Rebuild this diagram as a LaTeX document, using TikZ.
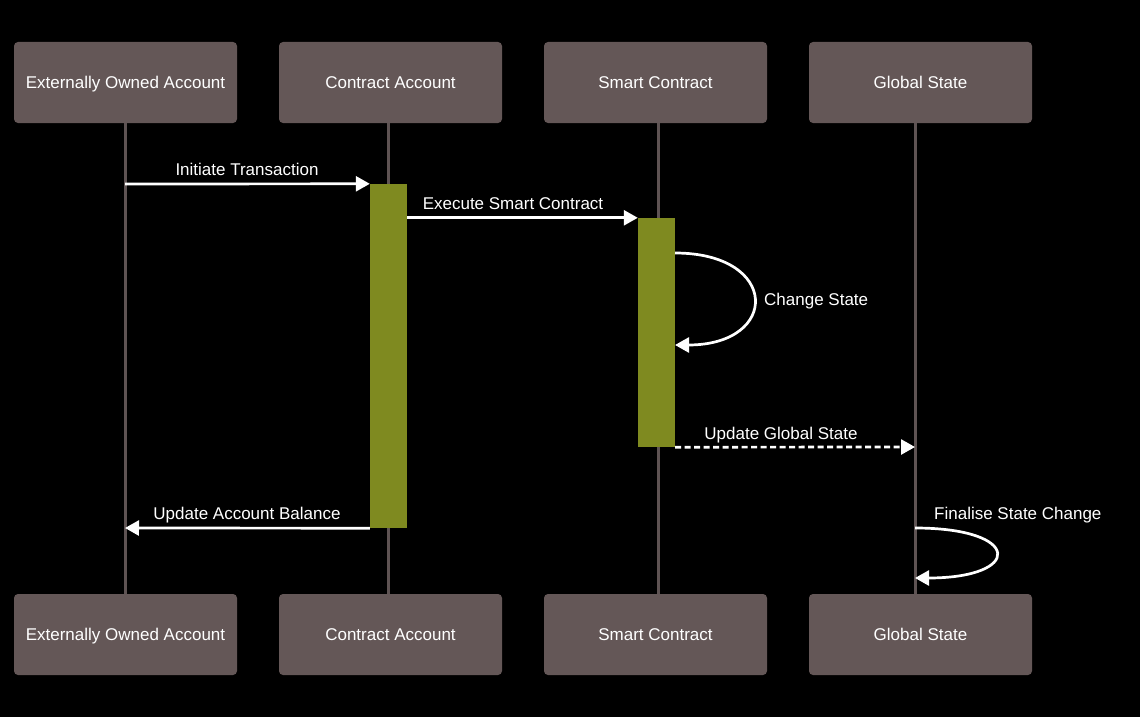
\documentclass[tikz,border=0pt]{standalone}
\usepackage{fontspec}
\setmainfont{Liberation Sans}
\usetikzlibrary{arrows.meta}
\definecolor{boxfill}{HTML}{645757}
\definecolor{lifeline}{HTML}{5E5353}
\definecolor{actfill}{HTML}{7F8A20}
\tikzset{
  actor/.style={fill=boxfill, rounded corners=4pt, minimum width=223pt, minimum height=81pt,
    text=white, font=\fontsize{17}{20}\selectfont, inner sep=0pt, text height=12pt, text depth=0pt},
  life/.style={draw=lifeline, line width=3pt},
  actbar/.style={fill=actfill, draw=none, minimum width=37pt, inner sep=0pt},
  msg/.style={draw=white, line width=2.7pt, -{Triangle[length=14pt,width=15pt]}},
  dmsg/.style={msg, dash pattern=on 6pt off 3.5pt},
  lbl/.style={text=white, font=\fontsize{17}{20}\selectfont, inner sep=0pt, text height=12pt, text depth=0pt}
}
\begin{document}
\begin{tikzpicture}[x=1pt,y=-1pt]
\useasboundingbox (0,0) rectangle (1140,717);
\fill[black] (0,0) rectangle (1140,717);

% participant boxes
\node[actor] (eoaT) at (125.5,82.5) {Externally Owned Account};
\node[actor] (caT)  at (390.5,82.5) {Contract Account};
\node[actor] (scT)  at (655.5,82.5) {Smart Contract};
\node[actor] (gsT)  at (920.5,82.5) {Global State};
\node[actor] (eoaB) at (125.5,634.5) {Externally Owned Account};
\node[actor] (caB)  at (390.5,634.5) {Contract Account};
\node[actor] (scB)  at (655.5,634.5) {Smart Contract};
\node[actor] (gsB)  at (920.5,634.5) {Global State};

% lifelines
\coordinate (eoaL1) at (125,123); \coordinate (eoaL2) at (125,594);
\coordinate (caL1)  at (388,123); \coordinate (caL2)  at (388,594);
\coordinate (scL1)  at (658,123); \coordinate (scL2)  at (658,594);
\coordinate (gsL1)  at (915,123); \coordinate (gsL2)  at (915,594);
\draw[life] (eoaL1) -- (eoaL2);
\draw[life] (caL1) -- (caL2);
\draw[life] (scL1) -- (scL2);
\draw[life] (gsL1) -- (gsL2);

% activation bars
\node[actbar, minimum height=344pt] (act1) at (388.5,356) {};
\node[actbar, minimum height=229pt] (act2) at (656.5,332.5) {};

% messages
\coordinate (m1s) at (125,184);
\draw[msg] (m1s) -- (act1.north west);
\node[lbl] (l1) at (247,169) {Initiate Transaction};

\draw[msg] (act1.east |- act2.north west) -- (act2.north west);
\node[lbl] (l2) at (513,203) {Execute Smart Contract};

\coordinate (m3s) at (675,253);
\coordinate (m3e) at (675,345);
\draw[msg] (m3s) .. controls (780,253) and (780,345) .. (m3e);
\node[lbl, anchor=west] (l3) at (764,299) {Change State};

\coordinate (m4e) at (915,447);
\draw[dmsg] (act2.south east) -- (m4e);
\node[lbl] (l4) at (781,433) {Update Global State};

\coordinate (m5e) at (125,528);
\draw[msg] (act1.south west) -- (m5e);
\node[lbl] (l5) at (247,513) {Update Account Balance};

\coordinate (m6s) at (915,528);
\coordinate (m6e) at (915,578);
\draw[msg] (m6s) .. controls (1023,528) and (1023,578) .. (m6e);
\node[lbl, anchor=west] (l6) at (934,513) {Finalise State Change};
\end{tikzpicture}
\end{document}
